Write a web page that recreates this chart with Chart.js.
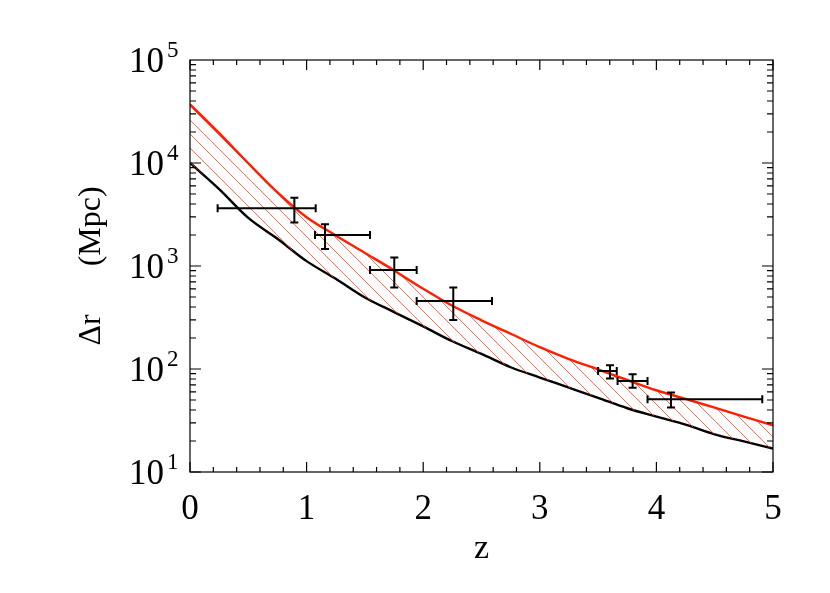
<!DOCTYPE html>
<html>
<head>
<meta charset="utf-8">
<script src="https://cdn.jsdelivr.net/npm/chart.js@4.4.0/dist/chart.umd.min.js"></script>
<style>
    html, body { margin: 0; padding: 0; background: #fff; }
</style>
</head>
<body>
<canvas id="chart" width="830" height="593"></canvas>
<script>
// model curves, sampled along z
const zGrid = [0, 0.25, 0.5, 0.75, 1, 1.25, 1.5, 1.75, 2, 2.25, 2.5, 2.75, 3, 3.25, 3.5, 3.75, 4, 4.25, 4.5, 4.75, 5];
const upperR = [37150, 19500, 9950, 5180, 2970, 1980, 1340, 906, 601, 411, 297, 220, 163, 125, 98.9, 78.2, 62.2, 51.2, 42.1, 34.5, 28.4];
const lowerR = [10000, 5580, 2930, 1840, 1115, 752, 495, 357, 259, 186, 140, 104, 82.6, 65.9, 52.5, 41.6, 34.5, 28.8, 23.2, 19.8, 16.9];

// measured points with error bars
const obsZ = [0.895, 1.158, 1.752, 2.258, 3.602, 3.796, 4.125];
const obsR = [3630, 2000, 915, 457, 95.7, 76.4, 50.8];
const obsZLo = [0.237, 1.072, 1.544, 1.944, 3.50, 3.667, 3.924];
const obsZHi = [1.078, 1.544, 1.944, 2.59, 3.66, 3.924, 4.908];
const obsRLo = [2650, 1460, 617, 299, 81, 65.8, 42.2];
const obsRHi = [4600, 2540, 1210, 617, 109, 89, 59];

const xTicks = [0, 1, 2, 3, 4, 5];
const yTickExps = [1, 2, 3, 4, 5];

const SERIF = '"Liberation Serif", "DejaVu Serif", serif';
const RED = '#ff1e00';

const makeHatch = () => {
    const tile = document.createElement('canvas');
    tile.width = 14;
    tile.height = 14;
    const g = tile.getContext('2d');
    g.strokeStyle = 'rgba(255, 60, 30, 0.75)';
    g.lineWidth = 1;
    g.beginPath();
    g.moveTo(-2, -2); g.lineTo(16, 16);
    g.moveTo(-2, 12); g.lineTo(2, 16);
    g.moveTo(12, -2); g.lineTo(16, 2);
    g.stroke();
    return g.createPattern(tile, 'repeat');
};

const errorBars = {
    id: 'errorBars',
    afterDatasetsDraw(chart) {
        const { ctx, scales: { x, y } } = chart;
        const cap = 4;
        ctx.save();
        ctx.strokeStyle = '#000';
        ctx.lineWidth = 2;
        ctx.beginPath();
        obsZ.forEach((z, i) => {
            const px = x.getPixelForValue(z);
            const py = y.getPixelForValue(obsR[i]);
            const x0 = x.getPixelForValue(obsZLo[i]);
            const x1 = x.getPixelForValue(obsZHi[i]);
            const y0 = y.getPixelForValue(obsRLo[i]);
            const y1 = y.getPixelForValue(obsRHi[i]);
            ctx.moveTo(x0, py); ctx.lineTo(x1, py);
            ctx.moveTo(x0, py - cap); ctx.lineTo(x0, py + cap);
            ctx.moveTo(x1, py - cap); ctx.lineTo(x1, py + cap);
            ctx.moveTo(px, y0); ctx.lineTo(px, y1);
            ctx.moveTo(px - cap, y0); ctx.lineTo(px + cap, y0);
            ctx.moveTo(px - cap, y1); ctx.lineTo(px + cap, y1);
        });
        ctx.stroke();
        ctx.restore();
    },
};

const frame = {
    id: 'frame',
    afterDraw(chart) {
        const { ctx, chartArea: a, scales: { x, y } } = chart;
        ctx.save();
        ctx.strokeStyle = '#000';
        ctx.lineWidth = 1.2;
        ctx.strokeRect(a.left, a.top, a.right - a.left, a.bottom - a.top);

        ctx.beginPath();
        for (let i = 0; i <= 25; i++) {
            const px = x.getPixelForValue(i * 0.2);
            const len = i % 5 === 0 ? 10 : 5;
            ctx.moveTo(px, a.bottom); ctx.lineTo(px, a.bottom - len);
            ctx.moveTo(px, a.top); ctx.lineTo(px, a.top + len);
        }
        for (let e = 1; e <= 4; e++) {
            for (let m = 1; m <= 9; m++) {
                const py = y.getPixelForValue(m * Math.pow(10, e));
                const len = m === 1 ? 11 : 6;
                ctx.moveTo(a.left, py); ctx.lineTo(a.left + len, py);
                ctx.moveTo(a.right, py); ctx.lineTo(a.right - len, py);
            }
        }
        ctx.stroke();

        // y tick labels as 10 with a raised exponent
        ctx.fillStyle = '#000';
        ctx.textBaseline = 'alphabetic';
        yTickExps.forEach((e) => {
            const py = y.getPixelForValue(Math.pow(10, e));
            ctx.font = '35px ' + SERIF;
            ctx.textAlign = 'right';
            ctx.fillText('10', a.left - 26, py + 12);
            ctx.font = '23px ' + SERIF;
            ctx.textAlign = 'left';
            ctx.fillText(String(e), a.left - 23, py - 3);
        });
        ctx.restore();
    },
};

const points = (xs, ys) => xs.map((v, i) => ({ x: v, y: ys[i] }));

new Chart(document.getElementById('chart'), {
    type: 'line',
    data: {
        datasets: [
            {
                label: 'upper',
                data: points(zGrid, upperR),
                borderColor: RED,
                borderWidth: 2.4,
                pointRadius: 0,
                cubicInterpolationMode: 'monotone',
                fill: '+1',
                backgroundColor: makeHatch(),
            },
            {
                label: 'lower',
                data: points(zGrid, lowerR),
                borderColor: '#000',
                borderWidth: 2.4,
                pointRadius: 0,
                cubicInterpolationMode: 'monotone',
                fill: false,
            },
        ],
    },
    options: {
        responsive: false,
        animation: false,
        layout: {
            padding: { left: 0, top: 60, right: 57, bottom: 0 },
        },
        plugins: {
            legend: { display: false },
            tooltip: { enabled: false },
        },
        scales: {
            x: {
                type: 'linear',
                min: 0,
                max: 5,
                grid: { display: false, drawTicks: false },
                border: { display: false },
                afterBuildTicks: (s) => { s.ticks = xTicks.map((v) => ({ value: v })); },
                afterFit: (s) => { s.height = 121; },
                ticks: {
                    color: '#000',
                    font: { family: SERIF, size: 35 },
                    padding: 17,
                    autoSkip: false,
                    maxRotation: 0,
                },
                title: {
                    display: true,
                    text: 'z',
                    color: '#000',
                    font: { family: SERIF, size: 34 },
                    padding: { top: 0, bottom: 24 },
                },
            },
            y: {
                type: 'logarithmic',
                min: 10,
                max: 100000,
                grid: { display: false, drawTicks: false },
                border: { display: false },
                ticks: { display: false },
                afterFit: (s) => { s.width = 190; },
                title: {
                    display: true,
                    text: 'Δr      (Mpc)',
                    color: '#000',
                    font: { family: SERIF, size: 32 },
                    padding: { top: 72, bottom: 0 },
                },
            },
        },
    },
    plugins: [errorBars, frame],
});
</script>
</body>
</html>
